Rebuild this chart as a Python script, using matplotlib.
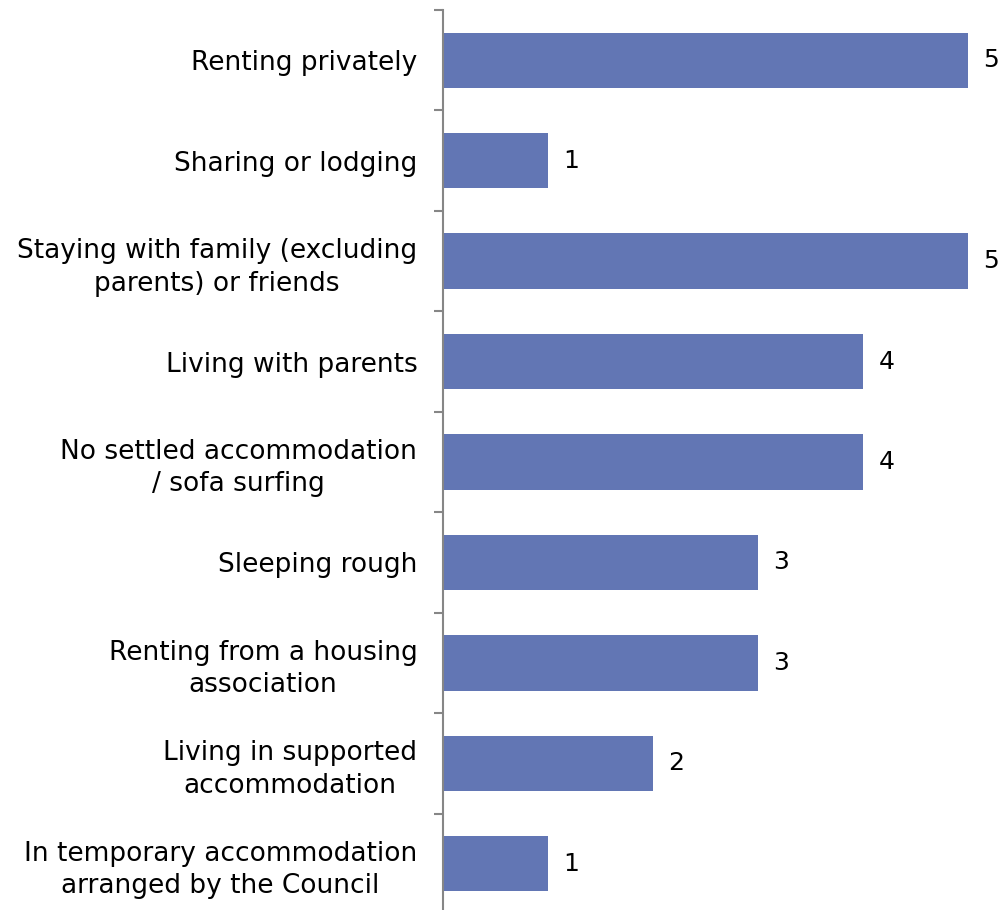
import numpy as np
import matplotlib
matplotlib.use("Agg")
import matplotlib.pyplot as plt

# categories top to bottom
categories = [
    "Renting privately",
    "Sharing or lodging",
    "Staying with family (excluding\nparents) or friends",
    "Living with parents",
    "No settled accommodation\n/ sofa surfing",
    "Sleeping rough",
    "Renting from a housing\nassociation",
    "Living in supported\naccommodation",
    "In temporary accommodation\narranged by the Council",
]
counts = [5, 1, 5, 4, 4, 3, 3, 2, 1]

bar_color = "#6276B4"
axis_color = "#868686"

fig = plt.figure(figsize=(10.03, 9.10), dpi=100)
ax = fig.add_axes([443 / 1003, -4 / 910, 560 / 1003, 904 / 910])

y = np.arange(len(categories))
ax.barh(y, counts, height=0.55, color=bar_color)

ax.set_ylim(len(categories) - 0.5, -0.5)
ax.set_xlim(0, 560 / 105)

for yi, v in zip(y, counts):
    ax.annotate(str(v), (v, yi), xytext=(11, 0), textcoords="offset points",
                ha="left", va="center", fontsize=18, color="black")

ax.set_yticks(y)
ax.set_yticklabels(categories, fontsize=19, ha="right", multialignment="center",
                   linespacing=1.32)
ax.tick_params(axis="y", which="major", length=0, pad=18.5)
ax.set_yticks(np.arange(len(categories) + 1) - 0.5, minor=True)
ax.tick_params(axis="y", which="minor", length=6.5, width=1.5, color=axis_color)

ax.set_xticks([])
for s in ["top", "right", "bottom"]:
    ax.spines[s].set_visible(False)
ax.spines["left"].set_color(axis_color)
ax.spines["left"].set_linewidth(1.5)

fig.savefig("out.png", dpi=100)
